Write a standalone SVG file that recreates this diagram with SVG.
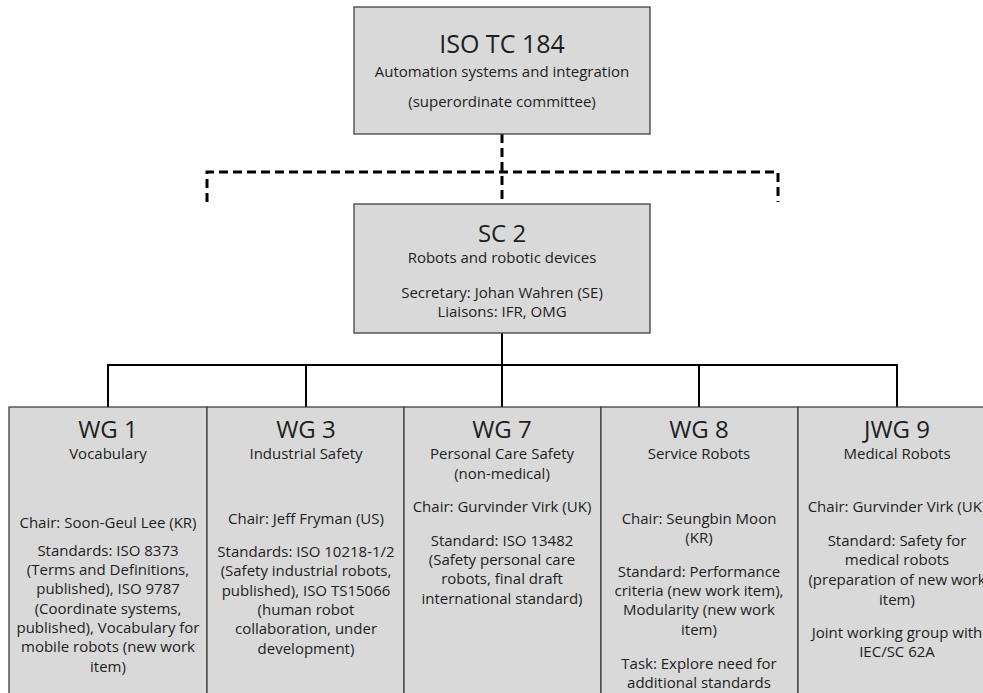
<svg xmlns="http://www.w3.org/2000/svg" width="983" height="693" viewBox="0 0 983 693">
<style>
.box{fill:#d9d9d9;stroke:#404040;stroke-width:1.3}
text{font-family:"Open Sans","Noto Sans","Liberation Sans",sans-serif;fill:#1e1e1e;text-anchor:middle}
.t{font-size:24px}
.s{font-size:15px}
.solid{fill:none;stroke:#000;stroke-width:2}
.dash{fill:none;stroke:#000;stroke-width:3;stroke-dasharray:9 5}
</style>
<rect width="983" height="693" fill="#fff"/>
<g id="connectors">
<path class="dash" d="M502 134 V204"/>
<path class="dash" d="M207 202 V172 H778 V202"/>
<path class="solid" d="M502 333 V365"/>
<path class="solid" d="M108 407 V365 H897 V407"/>
<path class="solid" d="M306 365 V407 M502 365 V407 M699 365 V407"/>
</g>
<g id="tc184">
<rect class="box" x="354" y="7" width="296" height="127"/>
<text class="t" x="502" y="53" style="font-size:25px">ISO TC 184</text>
<text class="s" x="502" y="77">Automation systems and integration</text>
<text class="s" x="502" y="107">(superordinate committee)</text>
</g>
<g id="sc2">
<rect class="box" x="354" y="204" width="296" height="129"/>
<text class="t" x="502" y="242">SC 2</text>
<text class="s" x="502" y="263">Robots and robotic devices</text>
<text class="s" x="502" y="298">Secretary: Johan Wahren (SE)</text>
<text class="s" x="502" y="317">Liaisons: IFR, OMG</text>
</g>
<g id="wg1">
<rect class="box" x="9" y="407" width="198" height="300"/>
<text class="t" x="108" y="438">WG 1</text>
<text class="s" x="108" y="459">Vocabulary</text>
<text class="s" x="108" y="528">Chair: Soon-Geul Lee (KR)</text>
<text class="s" x="108" y="556">Standards: ISO 8373</text>
<text class="s" x="108" y="575">(Terms and Definitions,</text>
<text class="s" x="108" y="594">published), ISO 9787</text>
<text class="s" x="108" y="614">(Coordinate systems,</text>
<text class="s" x="108" y="633">published), Vocabulary for</text>
<text class="s" x="108" y="652">mobile robots (new work</text>
<text class="s" x="108" y="672">item)</text>
</g>
<g id="wg3">
<rect class="box" x="207" y="407" width="197" height="300"/>
<text class="t" x="306" y="438">WG 3</text>
<text class="s" x="306" y="459">Industrial Safety</text>
<text class="s" x="306" y="524">Chair: Jeff Fryman (US)</text>
<text class="s" x="306" y="557">Standards: ISO 10218-1/2</text>
<text class="s" x="306" y="576">(Safety industrial robots,</text>
<text class="s" x="306" y="596">published), ISO TS15066</text>
<text class="s" x="306" y="615">(human robot</text>
<text class="s" x="306" y="634">collaboration, under</text>
<text class="s" x="306" y="654">development)</text>
</g>
<g id="wg7">
<rect class="box" x="404" y="407" width="197" height="300"/>
<text class="t" x="502" y="438">WG 7</text>
<text class="s" x="502" y="459">Personal Care Safety</text>
<text class="s" x="502" y="479">(non-medical)</text>
<text class="s" x="502" y="512">Chair: Gurvinder Virk (UK)</text>
<text class="s" x="502" y="546">Standard: ISO 13482</text>
<text class="s" x="502" y="565">(Safety personal care</text>
<text class="s" x="502" y="584">robots, final draft</text>
<text class="s" x="502" y="604">international standard)</text>
</g>
<g id="wg8">
<rect class="box" x="601" y="407" width="197" height="300"/>
<text class="t" x="699" y="438">WG 8</text>
<text class="s" x="699" y="459">Service Robots</text>
<text class="s" x="699" y="524">Chair: Seungbin Moon</text>
<text class="s" x="699" y="543">(KR)</text>
<text class="s" x="699" y="577">Standard: Performance</text>
<text class="s" x="699" y="596">criteria (new work item),</text>
<text class="s" x="699" y="615">Modularity (new work</text>
<text class="s" x="699" y="635">item)</text>
<text class="s" x="699" y="669">Task: Explore need for</text>
<text class="s" x="699" y="688">additional standards</text>
</g>
<g id="jwg9">
<rect class="box" x="798" y="407" width="197" height="300"/>
<text class="t" x="897" y="438">JWG 9</text>
<text class="s" x="897" y="459">Medical Robots</text>
<text class="s" x="897" y="512">Chair: Gurvinder Virk (UK)</text>
<text class="s" x="897" y="546">Standard: Safety for</text>
<text class="s" x="897" y="565">medical robots</text>
<text class="s" x="897" y="585">(preparation of new work</text>
<text class="s" x="897" y="605">item)</text>
<text class="s" x="897" y="638">Joint working group with</text>
<text class="s" x="897" y="657">IEC/SC 62A</text>
</g>
</svg>
